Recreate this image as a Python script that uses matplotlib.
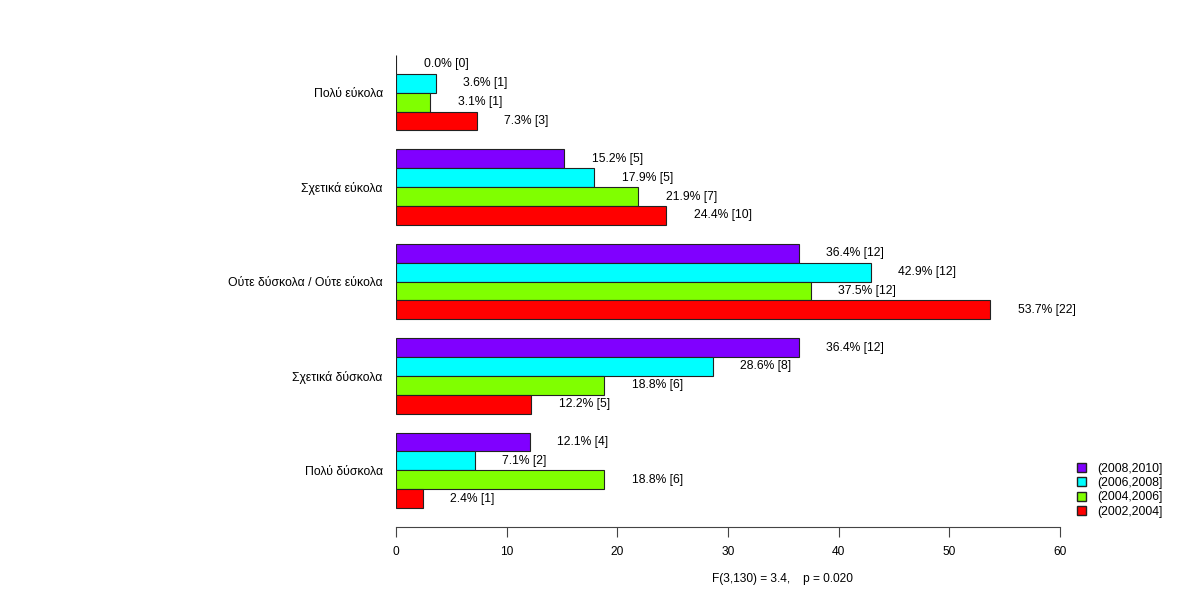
import matplotlib
matplotlib.use("Agg")
import matplotlib.pyplot as plt
from matplotlib.patches import Patch

categories = ["Πολύ εύκολα", "Σχετικά εύκολα", "Ούτε δύσκολα / Ούτε εύκολα",
              "Σχετικά δύσκολα", "Πολύ δύσκολα"]
series = ["(2008,2010]", "(2006,2008]", "(2004,2006]", "(2002,2004]"]
colors = ["#8000FF", "#00FFFF", "#80FF00", "#FF0000"]
# percentages per series (rows) across categories (cols)
pct = [
    [0.0, 15.2, 36.4, 36.4, 12.1],
    [3.6, 17.9, 42.9, 28.6, 7.1],
    [3.1, 21.9, 37.5, 18.8, 18.8],
    [7.3, 24.4, 53.7, 12.2, 2.4],
]
counts = [
    [0, 5, 12, 12, 4],
    [1, 5, 12, 8, 2],
    [1, 7, 12, 6, 6],
    [3, 10, 22, 5, 1],
]
xticks = [0, 10, 20, 30, 40, 50, 60]
footer = "F(3,130) = 3.4,    p = 0.020"

plt.rcParams['font.family'] = ['Liberation Sans', 'DejaVu Sans']

fig = plt.figure(figsize=(12, 6), dpi=100)
ax = fig.add_axes([396/1200, 1 - 527/600, (1060-396)/1200, (527-36)/600])

for s, (name, col) in enumerate(zip(series, colors)):
    for g, cat in enumerate(categories):
        y = g * 5 + s + 0.5
        v = pct[s][g]
        ax.barh(y, v, height=1.0, color=col, edgecolor="#222222", linewidth=0.8)
        ax.annotate(f"{v:.1f}% [{counts[s][g]}]", xy=(v, y), xytext=(19.8, 0),
                    textcoords="offset points", ha="left", va="center", fontsize=8.7)

ax.set_xlim(0, 60)
ax.set_ylim(25, -1)
ax.set_yticks([g * 5 + 2 for g in range(len(categories))])
ax.set_yticklabels(categories, fontsize=8.8)
ax.tick_params(axis='y', length=0, pad=9.5)
ax.set_xticks(xticks)
ax.set_xticklabels([str(t) for t in xticks], fontsize=8.6)
ax.tick_params(axis='x', length=7, pad=7, width=0.8, color="#444444")
for sp in ["top", "right", "left"]:
    ax.spines[sp].set_visible(False)
ax.spines["bottom"].set_color("#444444")
ax.spines["bottom"].set_linewidth(0.8)

handles = [Patch(facecolor=c, edgecolor="#222222", label=n) for n, c in zip(series, colors)]
fig.legend(handles=handles, loc="upper left", bbox_to_anchor=(1066/1200, 1 - 452/600),
           frameon=False, fontsize=8.8, handlelength=0.75, handleheight=0.75,
           handletextpad=0.9, labelspacing=0.18)

fig.text(782/1200, 1 - 579/600, footer, ha="center", va="center", fontsize=8.6)

fig.savefig("out.png", dpi=100)
